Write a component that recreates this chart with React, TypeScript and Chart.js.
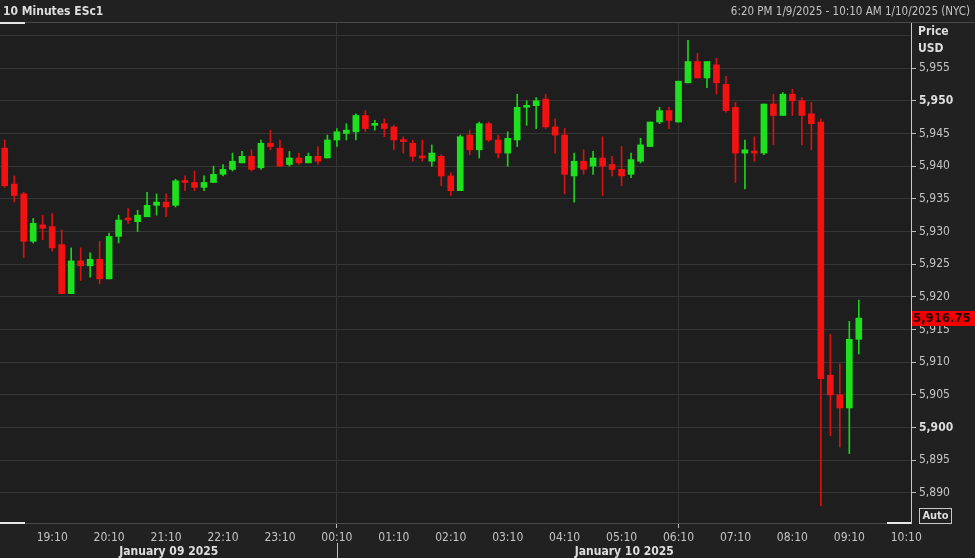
import React, { useEffect, useRef } from 'react';
import { Chart, registerables } from 'chart.js';

Chart.register(...registerables);

// ---- Data (10-minute candles, ESc1) ----
const OPEN = [
  5942.75, 5937.25, 5935.75, 5928.5, 5931.0, 5930.75, 5928.0, 5920.5, 5925.5, 5924.75,
  5925.75, 5922.75, 5929.25, 5932.0, 5931.5, 5932.25, 5934.0, 5934.5, 5934.0, 5937.75,
  5937.5, 5936.75, 5937.5, 5938.75, 5939.5, 5940.5, 5941.5, 5939.75, 5943.5, 5942.75,
  5940.25, 5941.25, 5940.5, 5941.5, 5941.25, 5944.0, 5945.0, 5945.25, 5947.75, 5946.25,
  5946.5, 5946.0, 5944.0, 5943.5, 5941.5, 5940.75, 5941.5, 5938.5, 5936.25, 5944.75,
  5942.5, 5946.5, 5944.0, 5942.0, 5944.0, 5949.0, 5949.25, 5950.25, 5946.0, 5944.75,
  5938.5, 5940.75, 5940.0, 5941.25, 5940.25, 5939.5, 5938.75, 5940.75, 5943.0, 5946.75,
  5948.5, 5946.75, 5952.75, 5956.0, 5953.5, 5955.5, 5952.5, 5949.0, 5942.0, 5942.25,
  5942.0, 5949.5, 5947.75, 5951.0, 5950.0, 5948.0, 5946.75, 5908.0, 5905.0, 5903.0,
  5913.5,
];
const HIGH = [
  5944.0, 5938.5, 5936.0, 5932.0, 5932.5, 5932.75, 5930.25, 5927.5, 5927.5, 5926.75,
  5928.5, 5929.75, 5932.5, 5933.5, 5933.25, 5936.0, 5935.75, 5935.75, 5938.0, 5938.5,
  5939.25, 5938.5, 5940.0, 5940.25, 5942.0, 5942.25, 5942.5, 5944.0, 5945.5, 5944.0,
  5942.25, 5942.0, 5942.0, 5943.0, 5944.75, 5945.75, 5946.5, 5948.0, 5948.5, 5947.0,
  5947.25, 5946.25, 5944.5, 5944.0, 5944.0, 5943.25, 5941.75, 5939.0, 5944.75, 5945.5,
  5946.75, 5946.75, 5944.75, 5945.25, 5951.0, 5950.0, 5950.5, 5951.0, 5947.25, 5945.75,
  5942.0, 5942.5, 5942.25, 5944.5, 5941.5, 5943.0, 5942.0, 5944.25, 5946.75, 5949.0,
  5949.0, 5953.0, 5959.25, 5957.25, 5956.0, 5956.5, 5953.75, 5949.75, 5944.0, 5944.5,
  5949.5, 5951.0, 5951.25, 5951.75, 5950.5, 5949.75, 5947.25, 5914.25, 5909.75, 5916.25,
  5919.5,
];
const LOW = [
  5936.75, 5934.5, 5926.0, 5928.25, 5928.75, 5927.0, 5920.5, 5920.5, 5922.5, 5923.0,
  5922.0, 5922.75, 5928.25, 5931.25, 5930.0, 5932.25, 5932.5, 5932.25, 5933.75, 5936.25,
  5936.25, 5936.25, 5937.5, 5938.5, 5939.25, 5940.5, 5939.25, 5939.5, 5942.5, 5940.0,
  5940.0, 5940.25, 5940.5, 5940.25, 5941.25, 5943.0, 5944.0, 5944.0, 5945.25, 5945.5,
  5944.5, 5942.5, 5942.0, 5940.75, 5940.75, 5940.0, 5937.0, 5935.5, 5936.25, 5941.75,
  5941.25, 5943.75, 5941.25, 5940.0, 5943.0, 5946.25, 5945.75, 5945.75, 5942.0, 5935.75,
  5934.5, 5938.75, 5938.75, 5935.5, 5938.5, 5937.0, 5938.25, 5940.5, 5943.0, 5946.5,
  5945.75, 5946.75, 5952.75, 5953.5, 5952.0, 5951.0, 5948.25, 5937.5, 5936.5, 5940.75,
  5941.75, 5943.25, 5947.75, 5947.75, 5943.25, 5942.5, 5888.0, 5898.75, 5897.0, 5896.0,
  5911.25,
];
const CLOSE = [
  5937.0, 5935.5, 5928.5, 5931.25, 5930.5, 5927.5, 5920.5, 5925.5, 5924.75, 5925.75,
  5922.75, 5929.25, 5931.75, 5931.75, 5932.5, 5934.0, 5934.5, 5933.75, 5937.75, 5937.5,
  5936.75, 5937.5, 5938.75, 5939.5, 5940.75, 5941.5, 5939.5, 5943.5, 5943.0, 5940.0,
  5941.25, 5940.5, 5941.5, 5940.75, 5944.0, 5945.25, 5945.5, 5947.75, 5945.75, 5946.5,
  5945.75, 5944.0, 5943.75, 5941.5, 5941.25, 5942.0, 5938.5, 5936.25, 5944.5, 5942.5,
  5946.5, 5944.0, 5942.0, 5944.25, 5949.0, 5949.25, 5950.0, 5946.0, 5944.75, 5938.75,
  5940.75, 5939.5, 5941.25, 5940.0, 5939.5, 5938.5, 5941.0, 5943.25, 5946.75, 5948.5,
  5947.0, 5953.0, 5956.0, 5953.5, 5956.0, 5952.75, 5948.5, 5942.0, 5942.5, 5942.0,
  5949.5, 5947.75, 5951.0, 5950.0, 5947.75, 5946.5, 5907.5, 5905.0, 5903.0, 5913.5,
  5916.75,
];

const START_HOUR = 18;
const START_MINUTE = 20;
const SLOT_MINUTES = 10;
const SLOT_COUNT = 96; // 18:20 .. 10:10
const HOUR_TICKS = [
  '19:10', '20:10', '21:10', '22:10', '23:10', '00:10', '01:10', '02:10',
  '03:10', '04:10', '05:10', '06:10', '07:10', '08:10', '09:10', '10:10',
];
const DATE_LABELS = ['January 09 2025', 'January 10 2025'];
const DATE_SPLIT_TICK = '00:10';
const Y_MIN = 5885.4;
const Y_MAX = 5961.9;
const Y_STEP = 5;
const Y_MAJOR_STEP = 50;
const Y_LABEL_MAX = 5955; // labels above this are hidden behind "Price USD"

const TITLE = '10 Minutes ESc1';
const RANGE_TEXT = '6:20 PM 1/9/2025 - 10:10 AM 1/10/2025 (NYC)';

// ---- Style ----
const FONT = "'DejaVu Sans Condensed', 'DejaVu Sans', sans-serif";
const BG = '#212121';
const PLOT_BG = '#1e1e1e';
const GRID = '#363636';
const TEXT = '#c4c4c4';
const TEXT_BRIGHT = '#dedede';
const UP = '#1fe01f';
const DOWN = '#f21212';
const UP_WICK = '#1ad41a';
const DOWN_WICK = '#dc1010';

function makeLabels(): string[] {
  const out: string[] = [];
  for (let k = 0; k < SLOT_COUNT; k++) {
    const m = (START_HOUR * 60 + START_MINUTE + k * SLOT_MINUTES) % 1440;
    const h = Math.floor(m / 60);
    const mm = m % 60;
    out.push(String(h).padStart(2, '0') + ':' + String(mm).padStart(2, '0'));
  }
  return out;
}

const fmt = (v: number, d = 0) =>
  v.toLocaleString('en-US', { minimumFractionDigits: d, maximumFractionDigits: d });

export default function App() {
  const canvasRef = useRef<HTMLCanvasElement | null>(null);

  useEffect(() => {
    const canvas = canvasRef.current;
    if (!canvas) return;
    const labels = makeLabels();
    const n = OPEN.length;
    const isUp = OPEN.map((o, i) => CLOSE[i] >= o);
    const body = labels.map((_, i) => (i < n ? [OPEN[i], CLOSE[i]] : null));
    const wick = labels.map((_, i) => (i < n ? [LOW[i], HIGH[i]] : null));
    const bodyColors = labels.map((_, i) => (i < n && isUp[i] ? UP : DOWN));
    const wickColors = labels.map((_, i) => (i < n && isUp[i] ? UP_WICK : DOWN_WICK));
    const isHourIdx = (i: number) => HOUR_TICKS.includes(labels[i]);

    const overlay = {
      id: 'overlay',
      beforeDraw(chart: any) {
        const { ctx, chartArea: a } = chart;
        ctx.save();
        ctx.fillStyle = PLOT_BG;
        ctx.fillRect(a.left, a.top, a.right - a.left, a.bottom - a.top);
        ctx.restore();
      },
      afterDraw(chart: any) {
        const { ctx, chartArea: a, scales } = chart;
        const x = scales.x;
        const y = scales.y;
        ctx.save();
        // header separator
        ctx.fillStyle = '#4a4a4a';
        ctx.fillRect(0, a.top - 1, chart.width, 1);
        ctx.fillStyle = '#e6e6e6';
        ctx.fillRect(0, a.top - 1, 25, 2);
        // bottom scroll markers
        ctx.fillRect(0, a.bottom - 1, 25, 2);
        ctx.fillRect(a.right - 24, a.bottom - 1, 24, 2);
        // date split
        const splitX = Math.round(x.getPixelForValue(labels.indexOf(DATE_SPLIT_TICK))) + 0.5;
        ctx.strokeStyle = '#bdbdbd';
        ctx.lineWidth = 1;
        ctx.beginPath();
        ctx.moveTo(splitX, a.bottom + 20);
        ctx.lineTo(splitX, chart.height);
        ctx.stroke();
        // date labels
        ctx.fillStyle = TEXT_BRIGHT;
        ctx.font = `bold 12px ${FONT}`;
        ctx.textAlign = 'center';
        ctx.textBaseline = 'middle';
        ctx.fillText(DATE_LABELS[0], (a.left + splitX) / 2, a.bottom + 29);
        ctx.fillText(DATE_LABELS[1], (splitX + a.right) / 2, a.bottom + 29);
        // last price tag
        const last = CLOSE[CLOSE.length - 1];
        const py = y.getPixelForValue(last);
        ctx.fillStyle = '#f20000';
        ctx.fillRect(a.right + 1, Math.round(py - 7.5), chart.width - a.right - 1, 15);
        ctx.fillStyle = '#2a0000';
        ctx.font = `bold 13px ${FONT}`;
        ctx.textAlign = 'left';
        ctx.fillText(fmt(last, 2), a.right + 2, py + 0.5);
        ctx.restore();
      },
    };

    const chart = new Chart(canvas, {
      type: 'bar',
      data: {
        labels,
        datasets: [
          {
            data: body as any,
            backgroundColor: bodyColors,
            barThickness: 6,
            grouped: false,
            minBarLength: 2,
            borderWidth: 0,
          } as any,
          {
            data: wick as any,
            backgroundColor: wickColors,
            barThickness: 1,
            grouped: false,
            borderWidth: 0,
          } as any,
        ],
      },
      options: {
        animation: false,
        responsive: false,
        devicePixelRatio: 1,
        layout: { padding: { top: 23, left: 0, right: 0, bottom: 0 } },
        plugins: { legend: { display: false }, tooltip: { enabled: false } },
        scales: {
          x: {
            type: 'category',
            offset: true,
            grid: {
              offset: false,
              color: (c: any) => (isHourIdx(c.index) ? GRID : 'rgba(0,0,0,0)'),
              tickColor: (c: any) => (isHourIdx(c.index) ? '#bdbdbd' : 'rgba(0,0,0,0)'),
              tickLength: 5,
            },
            border: { color: '#4a4a4a' },
            ticks: {
              autoSkip: false,
              maxRotation: 0,
              minRotation: 0,
              padding: 3,
              color: TEXT,
              font: { family: FONT, size: 12 },
              callback: (_v: any, i: number) => (isHourIdx(i) ? labels[i] : null),
            },
            afterFit: (s: any) => {
              s.height = 35;
            },
          } as any,
          y: {
            position: 'right',
            min: Y_MIN,
            max: Y_MAX,
            grid: {
              color: GRID,
              tickColor: (c: any) => (c.tick && c.tick.value > Y_LABEL_MAX ? 'rgba(0,0,0,0)' : '#bdbdbd'),
              tickLength: 5,
            },
            border: { color: '#c8c8c8' },
            ticks: {
              stepSize: Y_STEP,
              includeBounds: false,
              padding: 3,
              color: (c: any) => (c.tick && c.tick.value % Y_MAJOR_STEP === 0 ? TEXT_BRIGHT : TEXT),
              font: (c: any) => ({
                family: FONT,
                size: 12,
                weight: c.tick && c.tick.value % Y_MAJOR_STEP === 0 ? 'bold' : 'normal',
              }),
              callback: (v: any) => (Number(v) > Y_LABEL_MAX ? '' : fmt(Number(v))),
            },
            afterFit: (s: any) => {
              s.width = 64;
            },
          } as any,
        },
      },
      plugins: [overlay],
    });
    return () => chart.destroy();
  }, []);

  const base: React.CSSProperties = { position: 'absolute', fontFamily: FONT, whiteSpace: 'nowrap' };
  return (
    <div style={{ position: 'absolute', left: 0, top: 0, width: 975, height: 558, background: BG, overflow: 'hidden' }}>
      <canvas ref={canvasRef} width={975} height={558} style={{ position: 'absolute', left: 0, top: 0, width: 975, height: 558 }} />
      <div style={{ ...base, left: 3, top: 3, fontSize: 12, fontWeight: 'bold', color: TEXT_BRIGHT, lineHeight: '16px' }}>{TITLE}</div>
      <div style={{ ...base, right: 5, top: 3, fontSize: 11.5, color: TEXT, lineHeight: '16px' }}>{RANGE_TEXT}</div>
      <div style={{ ...base, left: 918, top: 23, fontSize: 12, fontWeight: 'bold', color: TEXT_BRIGHT, lineHeight: '16px' }}>Price</div>
      <div style={{ ...base, left: 918, top: 40, fontSize: 12, fontWeight: 'bold', color: TEXT_BRIGHT, lineHeight: '16px' }}>USD</div>
      <div
        style={{
          ...base,
          left: 919,
          top: 508,
          width: 31,
          height: 14,
          border: '1px solid #c8c8c8',
          fontSize: 11,
          fontWeight: 'bold',
          color: TEXT_BRIGHT,
          lineHeight: '14px',
          textAlign: 'center',
        }}
      >
        Auto
      </div>
    </div>
  );
}
